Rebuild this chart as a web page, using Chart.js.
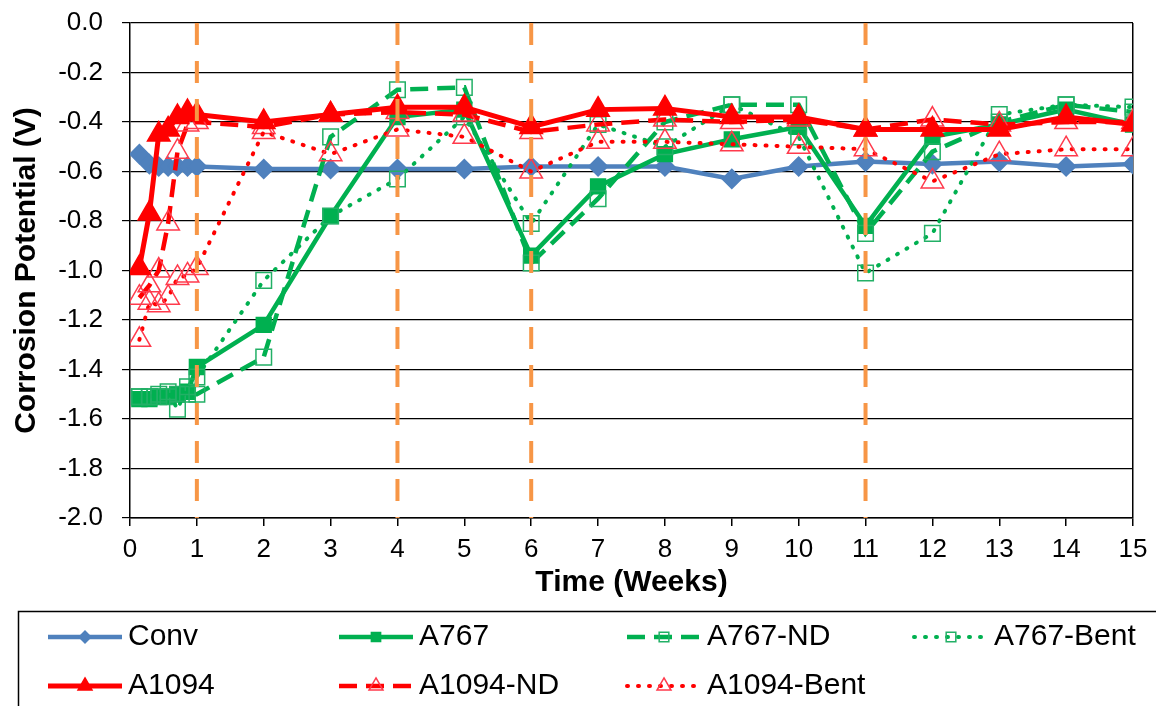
<!DOCTYPE html>
<html>
<head>
<meta charset="utf-8">
<title>Corrosion Potential</title>
<script src="https://cdn.jsdelivr.net/npm/chart.js@4.4.1/dist/chart.umd.min.js"></script>
<style>
  html, body { margin: 0; padding: 0; background: #fff; }
  canvas { display: block; }
</style>
</head>
<body>
<canvas id="chart" width="1156" height="706"></canvas>
<script>
// time in weeks (daily readings during the first week)
const weeks = [0.14, 0.29, 0.43, 0.57, 0.71, 0.86, 1, 2, 3, 4, 5, 6, 7, 8, 9, 10, 11, 12, 13, 14, 15];

const conv      = [-0.53, -0.57, -0.58, -0.58, -0.58, -0.58, -0.58, -0.59, -0.59, -0.59, -0.59, -0.58, -0.58, -0.58, -0.63, -0.58, -0.56, -0.57, -0.56, -0.58, -0.57];
const a767      = [-1.52, -1.52, -1.51, -1.51, -1.50, -1.49, -1.39, -1.22, -0.78, -0.38, -0.35, -0.94, -0.66, -0.53, -0.47, -0.42, -0.82, -0.46, -0.41, -0.35, -0.41];
const a767ND    = [-1.51, -1.51, -1.51, -1.51, -1.50, -1.50, -1.50, -1.35, -0.46, -0.27, -0.26, -0.97, -0.71, -0.40, -0.33, -0.33, -0.85, -0.52, -0.40, -0.33, -0.36];
const a767Bent  = [-1.51, -1.51, -1.50, -1.49, -1.56, -1.47, -1.43, -1.04, -0.78, -0.63, -0.38, -0.81, -0.41, -0.50, -0.33, -0.46, -1.01, -0.85, -0.37, -0.33, -0.34];
const a1094     = [-0.99, -0.77, -0.45, -0.43, -0.38, -0.36, -0.37, -0.40, -0.37, -0.34, -0.34, -0.42, -0.35, -0.345, -0.38, -0.38, -0.43, -0.43, -0.43, -0.38, -0.41];
const a1094ND   = [-1.11, -1.06, -1.00, -0.81, -0.52, -0.41, -0.40, -0.42, -0.37, -0.36, -0.37, -0.44, -0.41, -0.39, -0.40, -0.39, -0.43, -0.39, -0.41, -0.40, -0.40];
const a1094Bent = [-1.28, -1.13, -1.14, -1.11, -1.03, -1.02, -0.99, -0.44, -0.53, -0.43, -0.46, -0.60, -0.48, -0.48, -0.49, -0.50, -0.51, -0.64, -0.53, -0.51, -0.51];

// orange dashed markers
const eventWeeks = [1, 4, 6, 11];

const FONT = '"Liberation Sans", Arial, sans-serif';
const BLUE = '#4F81BD', GREEN = '#00B050', GREEN_OPEN = '#22B066', RED = '#FF0000', RED_OPEN = '#FF3A4C', ORANGE = '#F79646';

const pts = vals => vals.map((v, i) => ({ x: weeks[i], y: v }));

function series(label, vals, o) {
  return Object.assign({
    label: label,
    data: pts(vals),
    borderWidth: 4.5,
    pointBorderWidth: 1.5,
    fill: false,
    tension: 0
  }, o);
}

const datasets = [
  series('Conv', conv, { borderColor: BLUE, backgroundColor: BLUE, pointStyle: 'rectRot', pointRadius: 9.5, order: 7, legendCell: [0, 0] }),
  series('A767', a767, { borderColor: GREEN, backgroundColor: GREEN, pointStyle: 'rect', pointRadius: 10.5, order: 6, legendCell: [1, 0] }),
  series('A767-ND', a767ND, { borderColor: GREEN, pointBorderColor: GREEN_OPEN, backgroundColor: 'rgba(0,0,0,0)', borderDash: [18, 9], pointStyle: 'rect', pointRadius: 11, order: 5, legendCell: [2, 0] }),
  series('A767-Bent', a767Bent, { borderColor: GREEN, pointBorderColor: GREEN_OPEN, backgroundColor: 'rgba(0,0,0,0)', borderWidth: 4, borderDash: [1, 10], borderCapStyle: 'round', pointStyle: 'rect', pointRadius: 11, order: 4, legendCell: [3, 0] }),
  series('A1094', a1094, { borderColor: RED, backgroundColor: RED, borderWidth: 5, pointStyle: 'triangle', pointRadius: 13, order: 1, legendCell: [0, 1] }),
  series('A1094-ND', a1094ND, { borderColor: RED, pointBorderColor: RED_OPEN, backgroundColor: 'rgba(0,0,0,0)', borderDash: [18, 9], pointStyle: 'triangle', pointRadius: 13, order: 3, legendCell: [1, 1] }),
  series('A1094-Bent', a1094Bent, { borderColor: RED, pointBorderColor: RED_OPEN, backgroundColor: 'rgba(0,0,0,0)', borderWidth: 4, borderDash: [1, 10], borderCapStyle: 'round', pointStyle: 'triangle', pointRadius: 13, order: 2, legendCell: [2, 1] })
];

eventWeeks.forEach(w => {
  datasets.push({
    label: 'event ' + w,
    data: [{ x: w, y: 0 }, { x: w, y: -2 }],
    borderColor: ORANGE,
    borderWidth: 4,
    borderDash: [22, 16],
    pointRadius: 0,
    order: -1
  });
});

const whiteBg = {
  id: 'whiteBg',
  beforeDraw(chart) {
    const c = chart.ctx;
    c.save();
    c.fillStyle = '#fff';
    c.fillRect(0, 0, chart.width, chart.height);
    c.restore();
  }
};

// boxed legend under the chart, Excel style (line sample with marker in the middle)
const boxLegend = {
  id: 'boxLegend',
  afterDraw(chart) {
    const c = chart.ctx;
    const colX = [48, 339, 627, 914];
    const rowY = [637, 686];
    const sampleLen = 74;
    c.save();
    c.strokeStyle = '#000';
    c.lineWidth = 1.5;
    c.setLineDash([]);
    c.strokeRect(18.5, 611.5, 1200, 200);
    chart.data.datasets.forEach(ds => {
      if (!ds.legendCell) return;
      const x0 = colX[ds.legendCell[0]], y = rowY[ds.legendCell[1]];
      c.save();
      c.strokeStyle = ds.borderColor;
      c.lineWidth = ds.borderWidth;
      c.lineCap = ds.borderCapStyle || 'butt';
      c.setLineDash(ds.borderDash || []);
      c.beginPath();
      c.moveTo(x0, y);
      c.lineTo(x0 + sampleLen, y);
      c.stroke();
      c.setLineDash([]);
      c.lineCap = 'butt';
      c.fillStyle = ds.backgroundColor;
      c.strokeStyle = ds.pointBorderColor || ds.borderColor;
      c.lineWidth = 1.5;
      Chart.helpers.drawPoint(c, { pointStyle: ds.pointStyle, radius: ds.pointRadius * 0.62, borderWidth: 1.5, rotation: 0 }, x0 + sampleLen / 2, y);
      c.fillStyle = '#000';
      c.font = '30px ' + FONT;
      c.textBaseline = 'middle';
      c.textAlign = 'left';
      c.fillText(ds.label, x0 + sampleLen + 6, y);
      c.restore();
    });
    c.restore();
  }
};

new Chart(document.getElementById('chart'), {
  type: 'line',
  data: { datasets: datasets },
  plugins: [whiteBg, boxLegend],
  options: {
    responsive: false,
    animation: false,
    layout: { padding: { top: 23, right: 23, bottom: 103, left: 0 } },
    plugins: {
      legend: { display: false },
      tooltip: { enabled: false }
    },
    scales: {
      x: {
        type: 'linear',
        min: 0,
        max: 15,
        ticks: { stepSize: 1, color: '#000', padding: 8, font: { family: FONT, size: 26 } },
        grid: {
          color: c => (c.tick && c.tick.value === 15 ? '#000' : 'rgba(0,0,0,0)'),
          lineWidth: 1.5,
          tickColor: '#000',
          tickLength: 8
        },
        border: { display: true, color: '#000', width: 1.5 },
        title: { display: true, text: 'Time (Weeks)', color: '#000', padding: { top: 0, bottom: 2 }, font: { family: FONT, size: 30, weight: 'bold' } },
        afterFit: s => { s.height = 85; }
      },
      y: {
        min: -2,
        max: 0,
        ticks: {
          stepSize: 0.2,
          color: '#000',
          padding: 19,
          font: { family: FONT, size: 26 },
          callback: v => (Math.abs(v) < 1e-9 ? 0 : v).toFixed(1)
        },
        grid: { color: '#000', lineWidth: 1.2, tickColor: '#000', tickLength: 8 },
        border: { display: true, color: '#000', width: 1.5 },
        title: { display: true, text: 'Corrosion Potential (V)', color: '#000', padding: { top: 9, bottom: 0 }, font: { family: FONT, size: 30, weight: 'bold' } },
        afterFit: s => { s.width = 130; s.paddingTop = 0; s.paddingBottom = 0; }
      }
    }
  }
});
</script>
</body>
</html>
